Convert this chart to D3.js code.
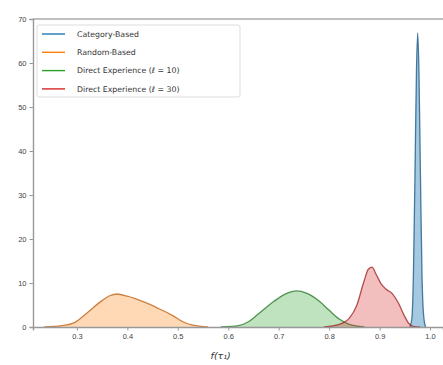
<!DOCTYPE html>
<html>
<head>
<meta charset="utf-8">
<script src="https://cdn.jsdelivr.net/npm/d3@7"></script>
<style>
  body { margin: 0; background: #fff; }
  svg { font-family: 'DejaVu Sans', sans-serif; }
  .axis path, .axis line { stroke: #999; }
  .axis text { fill: #444; font-size: 7.5px; }
</style>
</head>
<body>
<svg id="chart" width="443" height="365"></svg>
<script>
// density curves: [f(tau_1), density]
const categoryBased = [[0.960, 0], [0.964, 2], [0.967, 12], [0.970, 34], [0.973, 58], [0.9755, 66.8], [0.978, 58], [0.981, 34], [0.984, 12], [0.987, 3], [0.991, 0]]
const randomBased = [[0.235, 0], [0.27, 0.3], [0.295, 1], [0.32, 3.2], [0.345, 5.6], [0.365, 7.1], [0.38, 7.5], [0.40, 7.0], [0.43, 5.8], [0.46, 4.3], [0.49, 2.6], [0.51, 1.2], [0.53, 0.4], [0.56, 0]]
const directExp10 = [[0.585, 0], [0.62, 0.3], [0.64, 1.2], [0.66, 3.0], [0.69, 5.8], [0.715, 7.6], [0.735, 8.2], [0.755, 7.7], [0.78, 5.9], [0.80, 3.8], [0.82, 1.8], [0.84, 0.6], [0.87, 0]]
const directExp30 = [[0.79, 0], [0.82, 0.6], [0.84, 2.0], [0.855, 5.0], [0.868, 10.0], [0.878, 13.2], [0.885, 13.6], [0.893, 12.0], [0.903, 9.8], [0.913, 8.6], [0.925, 7.6], [0.937, 5.5], [0.948, 2.8], [0.958, 0.8], [0.968, 0.1], [0.98, 0]]

const seriesNames = ['Category-Based', 'Random-Based', 'Direct Experience (ℓ = 10)', 'Direct Experience (ℓ = 30)']
const seriesColors = ['#1f77b4', '#ff7f0e', '#2ca02c', '#d62728']
const seriesData = [categoryBased, randomBased, directExp10, directExp30]

const xTicks = [0.3, 0.4, 0.5, 0.6, 0.7, 0.8, 0.9, 1.0]
const yTicks = [0, 10, 20, 30, 40, 50, 60, 70]

const svg = d3.select('#chart')
const margin = { left: 33, top: 19, right: 0, bottom: 38 }
const width = 443 - margin.left - margin.right
const height = 365 - margin.top - margin.bottom

const x = d3.scaleLinear().domain([0.213, 1.0 + 13 / 507]).range([0, width])
const y = d3.scaleLinear().domain([0, 70]).range([height, 0])

const g = svg.append('g').attr('transform', `translate(${margin.left},${margin.top})`)

const areaGen = d3.area().x(d => x(d[0])).y0(y(0)).y1(d => y(d[1])).curve(d3.curveMonotoneX)
const lineGen = d3.line().x(d => x(d[0])).y(d => y(d[1])).curve(d3.curveMonotoneX)

seriesData.forEach((data, i) => {
  g.append('path').datum(data)
    .attr('d', areaGen)
    .attr('fill', seriesColors[i])
    .attr('fill-opacity', i === 0 ? 0.4 : 0.3)
  g.append('path').datum(data)
    .attr('d', lineGen)
    .attr('fill', 'none')
    .attr('stroke', d3.color(seriesColors[i]).darker(0.9))
    .attr('stroke-opacity', 0.75)
    .attr('stroke-width', 1.3)
})

// frame top
g.append('line').attr('x1', 0).attr('x2', width).attr('y1', 0).attr('y2', 0).attr('stroke', '#aaa').attr('stroke-width', 1.4)

g.append('g').attr('class', 'axis')
  .attr('transform', `translate(0,${height})`)
  .call(d3.axisBottom(x).tickValues(xTicks).tickFormat(d3.format('.1f')).tickSize(3.5).tickPadding(3.5))

g.append('g').attr('class', 'axis')
  .call(d3.axisLeft(y).tickValues(yTicks).tickSize(3.5).tickPadding(3))

g.selectAll('.axis .domain').attr('stroke', '#aaa').attr('stroke-width', 1.4)

// x label
svg.append('text')
  .attr('x', margin.left + x(0.585)).attr('y', 359)
  .attr('text-anchor', 'middle')
  .attr('font-size', 9.5).attr('fill', '#333')
  .attr('font-style', 'italic')
  .text('f(τ₁)')

// legend
const legend = g.append('g').attr('transform', 'translate(4,6)')
legend.append('rect')
  .attr('width', 203).attr('height', 72).attr('rx', 2)
  .attr('fill', '#fff').attr('fill-opacity', 0.8)
  .attr('stroke', '#ddd')
seriesNames.forEach((name, i) => {
  const row = legend.append('g').attr('transform', `translate(0,${9 + i * 18.3})`)
  row.append('line').attr('x1', 5).attr('x2', 28).attr('stroke', seriesColors[i]).attr('stroke-width', 1.4)
  row.append('text').attr('x', 40).attr('dy', '0.35em').attr('font-size', 7.8).attr('fill', '#333').text(name)
})
</script>
</body>
</html>
